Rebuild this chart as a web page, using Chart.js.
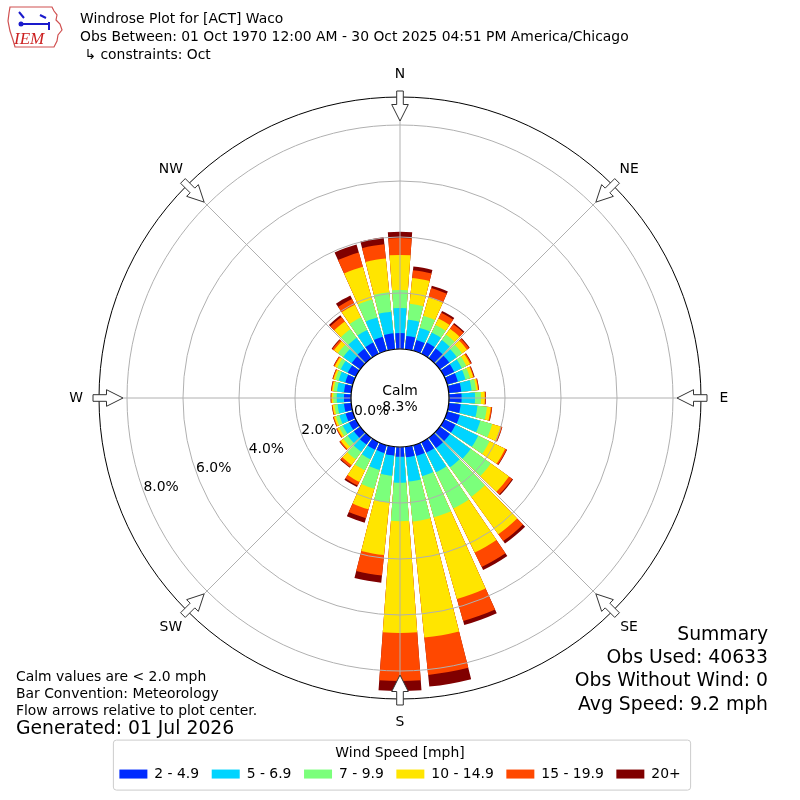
<!DOCTYPE html>
<html>
<head>
<meta charset="utf-8">
<title>Windrose Plot for [ACT] Waco</title>
<script src="https://cdn.jsdelivr.net/npm/chart.js@4.4.1/dist/chart.umd.min.js"></script>
<style>
  html, body { margin: 0; padding: 0; background: #fff; }
  #wrap { width: 800px; height: 800px; }
</style>
</head>
<body>
<div id="wrap"><canvas id="windrose" width="800" height="800"></canvas></div>
<script>
// Direction bins (degrees, where the wind blows from)
const directions = [0, 10, 20, 30, 40, 50, 60, 70, 80, 90, 100, 110, 120, 130, 140, 150, 160, 170,
                    180, 190, 200, 210, 220, 230, 240, 250, 260, 270, 280, 290, 300, 310, 320, 330, 340, 350];

// Speed bins and their colours (jet colormap samples)
const speedBins = ['2 - 4.9', '5 - 6.9', '7 - 9.9', '10 - 14.9', '15 - 19.9', '20+'];
const speedColors = ['#002bff', '#00d4ff', '#7bff7b', '#ffe500', '#ff4800', '#800000'];

// Frequency in % of observations, one value per direction
const freq2to5 = [0.57, 0.48, 0.40, 0.45, 0.43, 0.42, 0.40, 0.40, 0.45, 0.45, 0.43, 0.47, 0.45, 0.45, 0.45, 0.42, 0.40, 0.38,
                  0.35, 0.32, 0.29, 0.30, 0.30, 0.28, 0.27, 0.27, 0.26, 0.25, 0.26, 0.28, 0.32, 0.38, 0.42, 0.45, 0.52, 0.57];
const freq5to7 = [0.89, 0.58, 0.45, 0.40, 0.37, 0.33, 0.30, 0.28, 0.37, 0.48, 0.60, 0.76, 0.90, 0.91, 0.85, 0.78, 0.75, 0.87,
                  0.93, 0.72, 0.63, 0.38, 0.32, 0.27, 0.25, 0.23, 0.23, 0.26, 0.25, 0.25, 0.28, 0.37, 0.48, 0.50, 0.72, 0.78];
const freq7to10 = [0.65, 0.57, 0.45, 0.30, 0.25, 0.23, 0.18, 0.17, 0.16, 0.21, 0.34, 0.44, 0.45, 0.89, 1.30, 1.43, 1.53, 1.43,
                   1.37, 0.97, 0.70, 0.44, 0.33, 0.19, 0.14, 0.13, 0.11, 0.12, 0.12, 0.12, 0.14, 0.23, 0.38, 0.50, 0.67, 0.70];
const freq10to15 = [1.25, 0.93, 0.68, 0.25, 0.25, 0.22, 0.15, 0.12, 0.07, 0.14, 0.14, 0.32, 0.62, 0.80, 1.65, 1.75, 3.03, 4.17,
                    3.99, 1.88, 0.76, 0.46, 0.25, 0.12, 0.08, 0.07, 0.07, 0.06, 0.06, 0.07, 0.10, 0.18, 0.34, 0.50, 1.21, 1.21];
const freq15to20 = [0.60, 0.28, 0.35, 0.23, 0.20, 0.09, 0.05, 0.03, 0.03, 0.03, 0.04, 0.05, 0.06, 0.14, 0.30, 0.57, 0.82, 1.34,
                    1.72, 0.73, 0.33, 0.14, 0.09, 0.05, 0.03, 0.03, 0.02, 0.03, 0.03, 0.03, 0.04, 0.07, 0.20, 0.23, 0.53, 0.51];
const freq20plus = [0.23, 0.13, 0.09, 0.07, 0.05, 0.03, 0.02, 0.02, 0.01, 0.01, 0.01, 0.01, 0.02, 0.04, 0.11, 0.12, 0.15, 0.42,
                    0.36, 0.26, 0.17, 0.06, 0.03, 0.01, 0.01, 0.01, 0.01, 0.01, 0.01, 0.01, 0.01, 0.03, 0.07, 0.14, 0.30, 0.25];

const calmPct = 8.3;
const tickValues = [0, 2, 4, 6, 8];
const rMin = -1.75;   // leaves room for the calm circle
const rMax = 9.0;
const compassLabels = ['N', 'NE', 'E', 'SE', 'S', 'SW', 'W', 'NW'];

const titleLines = ['Windrose Plot for [ACT] Waco',
                    'Obs Between: 01 Oct 1970 12:00 AM - 30 Oct 2025 04:51 PM America/Chicago',
                    ' \u21b3 constraints: Oct'];
const noteLines = ['Calm values are < 2.0 mph', 'Bar Convention: Meteorology', 'Flow arrows relative to plot center.'];
const generatedText = 'Generated: 01 Jul 2026';
const summaryLines = ['Summary', 'Obs Used: 40633', 'Obs Without Wind: 0', 'Avg Speed: 9.2 mph'];

const FONT = '"DejaVu Sans", "Liberation Sans", sans-serif';
const BAR_ANGLE = 8.4;
const GAP_ANGLE = 1.6;
const LEG_TITLE_PAD = 47;

Chart.defaults.font.family = FONT;
Chart.defaults.color = '#000';

const speedSeries = [freq2to5, freq5to7, freq7to10, freq10to15, freq15to20, freq20plus];

// every direction gets a bar slot and a thin empty slot after it
const labels = [];
directions.forEach(d => labels.push(d + '\u00b0', ''));

// stack by running totals: dataset 0 is drawn last, so short bars sit on top
const datasets = speedSeries.map((series, k) => {
    const data = [];
    directions.forEach((d, i) => {
        let total = 0;
        for (let j = 0; j <= k; j++) total += speedSeries[j][i];
        data.push(total, 0);
    });
    return {
        label: speedBins[k],
        data: data,
        backgroundColor: ctx => (ctx.dataIndex % 2 ? 'rgba(0,0,0,0)' : speedColors[k]),
        borderWidth: 0,
        angle: ctx => (ctx.dataIndex % 2 ? GAP_ANGLE : BAR_ANGLE)
    };
});

function drawArrow(ctx, cx, cy, deg, d0, d1, d2) {
    const a = deg * Math.PI / 180;
    const ux = Math.sin(a), uy = -Math.cos(a);
    const px = Math.cos(a), py = Math.sin(a);
    const pt = (d, w) => [cx + ux * d + px * w, cy + uy * d + py * w];
    const pts = [pt(d0, -3.3), pt(d1, -3.3), pt(d1, -8.3), pt(d2, 0), pt(d1, 8.3), pt(d1, 3.3), pt(d0, 3.3)];
    ctx.beginPath();
    ctx.moveTo(pts[0][0], pts[0][1]);
    for (let i = 1; i < pts.length; i++) ctx.lineTo(pts[i][0], pts[i][1]);
    ctx.closePath();
    ctx.fillStyle = '#fff';
    ctx.fill();
    ctx.strokeStyle = '#333';
    ctx.lineWidth = 1;
    ctx.stroke();
}

function drawLogo(ctx) {
    ctx.save();
    ctx.strokeStyle = '#d05050';
    ctx.lineWidth = 1.2;
    ctx.beginPath();
    const outline = [[10, 7], [52, 7], [54, 11], [57, 15], [56, 20], [60, 24], [62, 30], [58, 35],
                     [57, 41], [54, 47], [15, 47], [13, 40], [10, 31], [8, 21], [9, 13]];
    outline.forEach((p, i) => (i ? ctx.lineTo(p[0], p[1]) : ctx.moveTo(p[0], p[1])));
    ctx.closePath();
    ctx.stroke();
    ctx.strokeStyle = '#1a1acc';
    ctx.lineWidth = 2;
    ctx.beginPath();
    ctx.moveTo(22, 24); ctx.lineTo(48, 24);
    ctx.moveTo(19, 12); ctx.lineTo(24, 18);
    ctx.moveTo(40, 15); ctx.lineTo(46, 18);
    ctx.moveTo(49, 22); ctx.lineTo(49, 30);
    ctx.stroke();
    ctx.fillStyle = '#1a1acc';
    ctx.beginPath();
    ctx.arc(21, 24, 2.5, 0, Math.PI * 2);
    ctx.fill();
    ctx.fillStyle = '#cc2020';
    ctx.font = 'italic 17px "Liberation Serif", serif';
    ctx.textAlign = 'left';
    ctx.textBaseline = 'alphabetic';
    ctx.fillText('IEM', 14, 44);
    ctx.restore();
}

const windroseDecor = {
    id: 'windroseDecor',
    afterDraw(chart) {
        const ctx = chart.ctx;
        const scale = chart.scales.r;
        const cx = scale.xCenter, cy = scale.yCenter, R = scale.drawingArea;
        const calmR = scale.getDistanceFromCenterForValue(0);
        ctx.save();

        // direction grid lines every 45 degrees
        ctx.strokeStyle = '#b0b0b0';
        ctx.lineWidth = 1;
        compassLabels.forEach((lab, i) => {
            const a = i * 45 * Math.PI / 180;
            ctx.beginPath();
            ctx.moveTo(cx + Math.sin(a) * calmR, cy - Math.cos(a) * calmR);
            ctx.lineTo(cx + Math.sin(a) * R, cy - Math.cos(a) * R);
            ctx.stroke();
        });

        // calm circle
        ctx.beginPath();
        ctx.arc(cx, cy, calmR, 0, Math.PI * 2);
        ctx.fillStyle = '#fff';
        ctx.fill();
        ctx.strokeStyle = '#000';
        ctx.lineWidth = 1.2;
        ctx.stroke();

        ctx.fillStyle = '#000';
        ctx.font = '13.9px ' + FONT;
        ctx.textAlign = 'center';
        ctx.textBaseline = 'middle';
        ctx.fillText('Calm', cx, cy - 7);
        ctx.fillText(calmPct.toFixed(1) + '%', cx, cy + 9);

        // radial tick labels along 250 degrees
        ctx.textAlign = 'left';
        ctx.textBaseline = 'alphabetic';
        const la = 200 * Math.PI / 180;
        tickValues.forEach(v => {
            const d = scale.getDistanceFromCenterForValue(v);
            ctx.fillText(v.toFixed(1) + '%', cx + Math.cos(la) * d, cy - Math.sin(la) * d);
        });

        // compass arrows and labels
        ctx.textAlign = 'center';
        ctx.textBaseline = 'middle';
        compassLabels.forEach((lab, i) => {
            const deg = i * 45;
            drawArrow(ctx, cx, cy, deg, R + 6, R - 7.5, R - 24);
            const a = deg * Math.PI / 180;
            ctx.fillStyle = '#000';
            ctx.font = '13.9px ' + FONT;
            ctx.fillText(lab, cx + Math.sin(a) * (R + 23), cy - Math.cos(a) * (R + 23));
        });

        // header
        drawLogo(ctx);
        ctx.fillStyle = '#000';
        ctx.font = '13.9px ' + FONT;
        ctx.textAlign = 'left';
        ctx.textBaseline = 'middle';
        titleLines.forEach((t, i) => ctx.fillText(t, 80, 19 + i * 18));

        // notes, bottom left
        noteLines.forEach((t, i) => ctx.fillText(t, 16, 677 + i * 17));
        ctx.font = '18.8px ' + FONT;
        ctx.fillText(generatedText, 16, 729);

        // summary, bottom right
        ctx.textAlign = 'right';
        summaryLines.forEach((t, i) => ctx.fillText(t, 768, 635 + i * 23.3));

        // frame around the legend
        const leg = chart.legend;
        if (leg && leg.lineWidths) {
            const pad = leg.options.labels.padding;
            const L = leg.lineWidths[0];
            const x0 = (leg.left + pad + leg.right - L) / 2;
            const bx = x0 - 6, bw = L - pad + 16;
            const by = leg.top + LEG_TITLE_PAD - 6, bh = 50;
            ctx.strokeStyle = '#cccccc';
            ctx.lineWidth = 1;
            ctx.beginPath();
            ctx.roundRect(bx, by, bw, bh, 3);
            ctx.stroke();
        }
        ctx.restore();
    }
};

new Chart(document.getElementById('windrose'), {
    type: 'polarArea',
    data: { labels: labels, datasets: datasets },
    options: {
        responsive: false,
        animation: false,
        events: [],
        layout: { padding: { left: 99, right: 99, top: 97, bottom: 9 } },
        scales: {
            r: {
                min: rMin,
                max: rMax,
                startAngle: -BAR_ANGLE / 2,
                afterBuildTicks: scale => {
                    scale.ticks = tickValues.concat([rMax]).map(v => ({ value: v }));
                },
                ticks: { display: false },
                grid: {
                    z: 1,
                    circular: true,
                    lineWidth: 1,
                    color: ctx => (ctx.tick && ctx.tick.value === rMax ? '#000' : '#b0b0b0')
                },
                angleLines: { display: false },
                pointLabels: { display: false }
            }
        },
        plugins: {
            legend: {
                position: 'bottom',
                labels: {
                    boxWidth: 28,
                    boxHeight: 9,
                    padding: 12.6,
                    font: { size: 13.9 },
                    color: '#000',
                    generateLabels: chart => chart.data.datasets.map((ds, i) => ({
                        text: ds.label,
                        fillStyle: speedColors[i],
                        strokeStyle: speedColors[i],
                        lineWidth: 0,
                        hidden: false,
                        datasetIndex: i
                    }))
                },
                title: {
                    display: true,
                    text: 'Wind Speed [mph]',
                    color: '#000',
                    font: { size: 13.9, lineHeight: 1 },
                    padding: { top: LEG_TITLE_PAD, bottom: -5.5 }
                }
            },
            tooltip: { enabled: false }
        }
    },
    plugins: [windroseDecor]
});
</script>
</body>
</html>
